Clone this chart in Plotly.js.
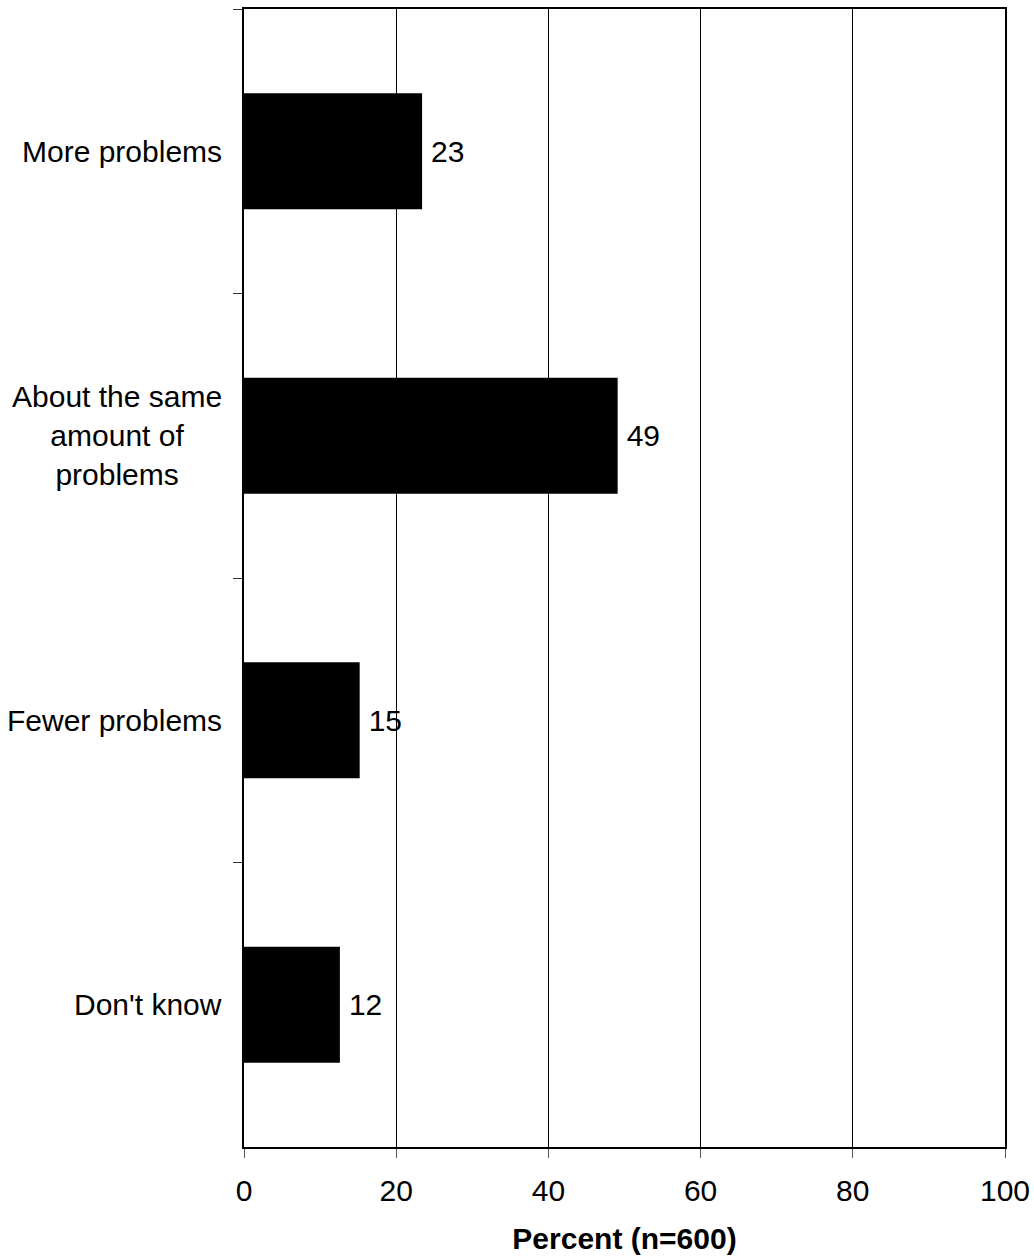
<!DOCTYPE html>
<html>
<head>
<meta charset="utf-8">
<script src="https://cdn.plot.ly/plotly-3.0.1.min.js"></script>
<style>html,body{margin:0;padding:0;background:#fff;}#chart{width:1034px;height:1257px;}</style>
</head>
<body>
<div id="chart"></div>
<script>
const categories = ["More problems", "About the same amount of problems", "Fewer problems", "Don't know"];
const categoryLabels = ["More problems", "About the same<br>amount of<br>problems", "Fewer problems", "Don't know"];
const values = [23.4, 49.1, 15.2, 12.6];
const valueLabels = ["23", "49", "15", "12"];
const xTickValues = [0, 20, 40, 60, 80, 100];
const xTitle = "Percent (n=600)";

const FONT = "Liberation Sans, Arial, Helvetica, sans-serif";
const FS = 30;

const trace = {
  type: "bar",
  orientation: "h",
  x: values,
  y: categories,
  text: valueLabels.map(t => "\u2009" + t),
  textposition: "outside",
  textfont: {family: FONT, size: FS, color: "#000"},
  cliponaxis: false,
  marker: {color: "#000", line: {width: 0}},
  hoverinfo: "none"
};

const annotations = categories.map((c, i) => ({
  xref: "paper", yref: "y",
  x: 0, y: c,
  xanchor: "right", yanchor: "middle",
  xshift: -20,
  text: categoryLabels[i],
  align: "center",
  showarrow: false,
  font: {family: FONT, size: FS, color: "#000"}
}));

const layout = {
  width: 1034, height: 1257,
  margin: {l: 244, r: 29, t: 9, b: 110},
  paper_bgcolor: "#fff", plot_bgcolor: "#fff",
  showlegend: false,
  bargap: 0.593,
  font: {family: FONT, size: FS, color: "#000"},
  xaxis: {
    range: [0, 100],
    tickvals: xTickValues,
    ticktext: xTickValues.map(String),
    ticks: "outside", ticklen: 9, tickwidth: 1, tickcolor: "#555",
    ticklabelstandoff: 7,
    showgrid: true, gridcolor: "#000", gridwidth: 1,
    showline: true, linecolor: "#000", linewidth: 2, mirror: true,
    zeroline: false,
    tickfont: {family: FONT, size: FS, color: "#000"},
    title: {text: "<b>" + xTitle + "</b>", font: {family: FONT, size: FS, color: "#000"}, standoff: 22},
    fixedrange: true
  },
  yaxis: {
    type: "category",
    categoryorder: "array",
    categoryarray: categories,
    autorange: "reversed",
    tickson: "boundaries",
    ticks: "outside", ticklen: 9, tickwidth: 1, tickcolor: "#333",
    showticklabels: false,
    showgrid: false,
    showline: true, linecolor: "#000", linewidth: 2, mirror: true,
    zeroline: false,
    fixedrange: true
  },
  annotations: annotations
};

Plotly.newPlot("chart", [trace], layout, {staticPlot: true, displayModeBar: false});
</script>
</body>
</html>
